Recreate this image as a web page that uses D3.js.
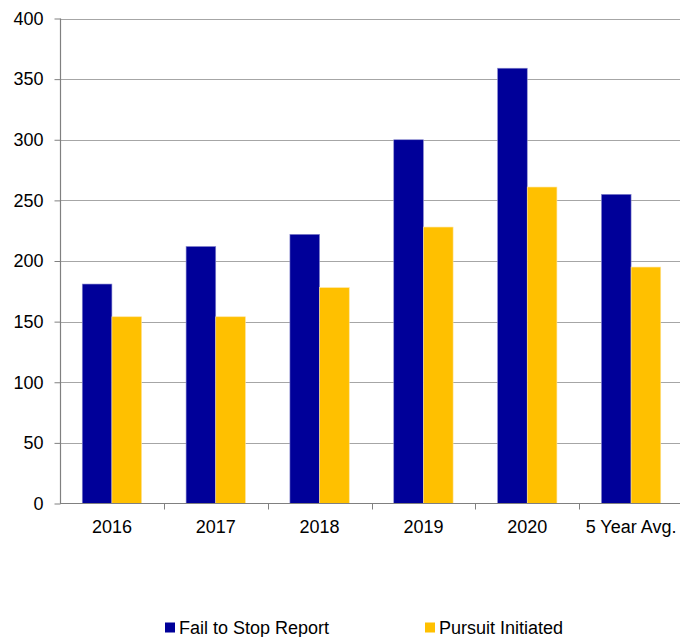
<!DOCTYPE html>
<html>
<head>
<meta charset="utf-8">
<script src="https://cdn.jsdelivr.net/npm/d3@7"></script>
<style>
  body { margin: 0; background: #fff; }
  svg text { font-family: "Liberation Sans", Arial, sans-serif; fill: #000; }
</style>
</head>
<body>
<svg width="680" height="637"></svg>
<script>
// chart data
var categories = ['2016', '2017', '2018', '2019', '2020', '5 Year Avg.']
var seriesNames = ['Fail to Stop Report', 'Pursuit Initiated']
var failToStop = [181, 212, 222, 300, 359, 255]
var pursuitInitiated = [154, 154, 178, 228, 261, 195]
var yTicks = [0, 50, 100, 150, 200, 250, 300, 350, 400]

var colors = ['#000099', '#ffc000']
var edgeColors = ['#8c8cd0', '#ffe39a']

var svg = d3.select('svg')

var plotLeft = 60, plotRight = 683, plotTop = 18.5, plotBottom = 503.5
var fontSize = '18px'

var x = d3.scaleBand().domain(categories).range([plotLeft, plotRight])
var inner = d3.scaleBand().domain([0, 1]).range([0, x.bandwidth()]).paddingInner(0).paddingOuter(0.75)
var y = d3.scaleLinear().domain([0, 400]).range([plotBottom, plotTop])

// gridlines
svg.append('g')
    .selectAll('line')
    .data(yTicks.filter(d => d > 0))
    .join('line')
    .attr('x1', plotLeft)
    .attr('x2', plotRight)
    .attr('y1', d => Math.round(y(d)) + 0.5)
    .attr('y2', d => Math.round(y(d)) + 0.5)
    .attr('stroke', '#a6a6a6')
    .attr('stroke-width', 1.2)

// bars
var rows = categories.map((c, i) => ({cat: c, vals: [failToStop[i], pursuitInitiated[i]]}))

svg.append('g')
    .selectAll('g')
    .data(rows)
    .join('g')
    .attr('transform', d => 'translate(' + x(d.cat) + ',0)')
    .selectAll('rect')
    .data(d => d.vals.map((v, k) => ({k: k, v: v})))
    .join('rect')
    .attr('x', d => inner(d.k))
    .attr('y', d => y(d.v))
    .attr('width', inner.bandwidth())
    .attr('height', d => y(0) - y(d.v))
    .attr('fill', d => colors[d.k])
    .attr('stroke', d => edgeColors[d.k])
    .attr('stroke-width', 0.6)

// y axis
var yAxis = d3.axisLeft(y)
    .tickValues(yTicks)
    .tickSize(6)
    .tickPadding(11)
    .tickFormat(d3.format('d'))

var gy = svg.append('g')
    .attr('transform', 'translate(' + (plotLeft + 0.5) + ',0)')
    .call(yAxis)
gy.select('.domain').attr('stroke', '#808080').attr('stroke-width', 1.2)
    .attr('d', 'M0,' + plotTop + 'V' + plotBottom)
gy.selectAll('.tick line').attr('stroke', '#808080')
gy.selectAll('.tick text')
    .attr('font-family', null)
    .attr('font-size', null)
    .style('font-size', fontSize)

// x axis
var gx = svg.append('g')
    .attr('transform', 'translate(0,' + plotBottom + ')')

gx.append('line')
    .attr('x1', plotLeft)
    .attr('x2', plotRight)
    .attr('stroke', '#808080')
    .attr('stroke-width', 1.2)

gx.selectAll('.sep')
    .data(categories.slice(1))
    .join('line')
    .attr('class', 'sep')
    .attr('x1', d => Math.round(x(d)) + 0.5)
    .attr('x2', d => Math.round(x(d)) + 0.5)
    .attr('y1', 0)
    .attr('y2', 6)
    .attr('stroke', '#808080')

gx.selectAll('text')
    .data(categories)
    .join('text')
    .attr('x', d => x(d) + x.bandwidth() / 2)
    .attr('y', 29)
    .attr('text-anchor', 'middle')
    .style('font-size', fontSize)
    .text(d => d)

// legend
var legendX = [165, 425]
var legend = svg.append('g')
    .selectAll('g')
    .data(seriesNames)
    .join('g')
    .attr('transform', (d, i) => 'translate(' + legendX[i] + ',622.5)')

legend.append('rect')
    .attr('width', 10)
    .attr('height', 10)
    .attr('fill', (d, i) => colors[i])

legend.append('text')
    .attr('x', 14)
    .attr('y', 11)
    .style('font-size', fontSize)
    .text(d => d)
</script>
</body>
</html>
